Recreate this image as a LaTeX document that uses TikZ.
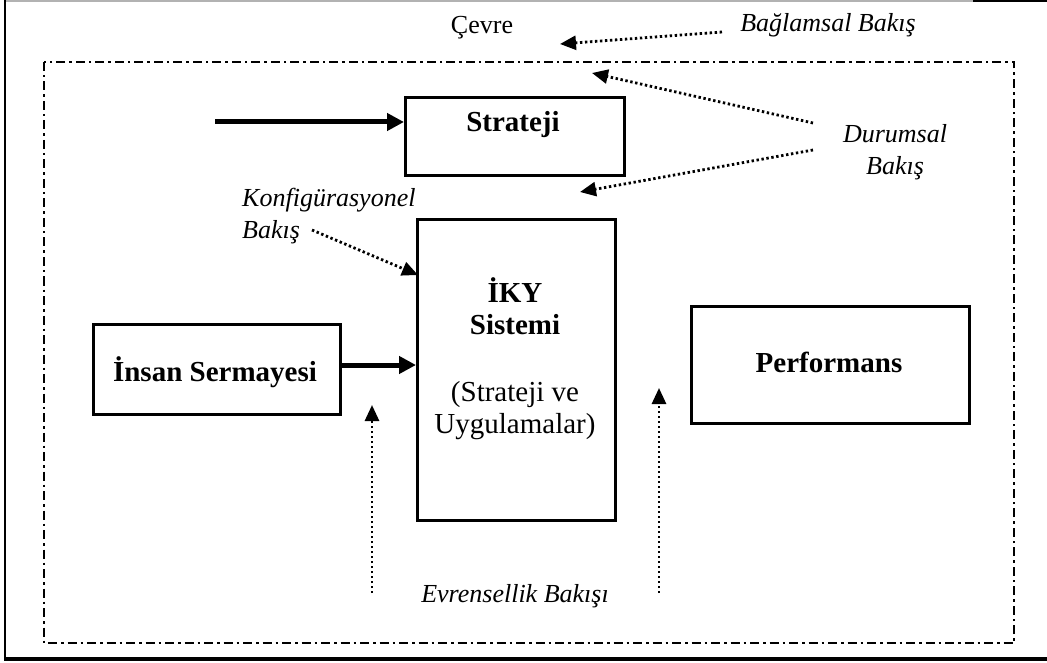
\documentclass[tikz,border=0pt]{standalone}
\usepackage{fontspec}
\setmainfont{Liberation Serif}
\usetikzlibrary{arrows.meta}

\tikzset{
  box/.style={draw, line width=2.6pt, rectangle, inner sep=0pt, anchor=north west},
  bigtxt/.style={font=\fontsize{29}{32}\selectfont, align=center, inner sep=0pt},
  boldtxt/.style={bigtxt, font=\fontsize{29}{32}\selectfont\bfseries},
  itxt/.style={font=\fontsize{26}{32}\selectfont\itshape, inner sep=0pt},
  flow/.style={line width=5pt, -{Triangle[length=17pt,width=17pt]}},
  view/.style={line width=2.8pt, dash pattern=on 2.4pt off 2.6pt, -{Triangle[length=16pt,width=14pt]}},
  envline/.style={line width=2.6pt, dash pattern=on 9pt off 4pt on 2.5pt off 4pt}
}

\begin{document}
\begin{tikzpicture}[x=1pt,y=-1pt]
\useasboundingbox (0,0) rectangle (1047,663);

% page frame
\draw[line width=2.5pt, gray!60] (5,1) -- (973,1);
\draw[line width=2.5pt] (973,1) -- (1047,1);
\draw[line width=2.5pt] (5,0) -- (5,659);
\draw[line width=3.5pt] (4,659) -- (1047,659);

% environment boundary
\draw[envline] (44,62) rectangle (1014,643);

% boxes
\node[box, minimum width=219pt, minimum height=78pt] (strbox) at (404,96) {};
\node[box, minimum width=198pt, minimum height=301pt] (ikybox) at (416,218) {};
\node[box, minimum width=247pt, minimum height=90pt] (insbox) at (92,323) {};
\node[box, minimum width=278pt, minimum height=117pt] (perfbox) at (690,305) {};

% box texts
\node[boldtxt] (strtxt) at (513,125) {Strateji};
\node[boldtxt] (ikytxt) at (515,306) {İKY\\Sistemi};
\node[bigtxt] (ikysub) at (515,411) {(Strateji ve\\Uygulamalar)};
\node[boldtxt] (instxt) at (215,372) {İnsan Sermayesi};
\node[boldtxt] (perftxt) at (829,362) {Performans};

% view labels
\node[font=\fontsize{26}{32}\selectfont, inner sep=0pt] (cevre) at (482,28) {Çevre};
\node[itxt] (bag) at (828,25) {Bağlamsal Bakış};
\node[itxt, align=center] (dur) at (895,152) {Durumsal\\Bakış};
\node[itxt, align=left, anchor=west] (konf) at (242,216) {Konfigürasyonel\\Bakış};
\node[itxt] (evr) at (515,596) {Evrensellik Bakışı};

% connector anchors
\coordinate (strin) at (215,122);
\coordinate (bagfrom) at (722,32);
\coordinate (bagto) at (560,44);
\coordinate (durfromA) at (813,123);
\coordinate (durtoA) at (592,73);
\coordinate (durfromB) at (813,150);
\coordinate (durtoB) at (580,192);
\coordinate (konffrom) at (312,230);
\coordinate (konfto) at (418,275);
\coordinate (evrLfrom) at (372,593);
\coordinate (evrLto) at (372,405);
\coordinate (evrRfrom) at (659,593);
\coordinate (evrRto) at (659,388);

% flows
\draw[flow] (strin) -- (strbox.west |- strin);
\draw[flow] (insbox.east |- 0,365) -- (ikybox.west |- 0,365);

% views
\draw[view] (bagfrom) -- (bagto);
\draw[view] (durfromA) -- (durtoA);
\draw[view] (durfromB) -- (durtoB);
\draw[view] (konffrom) -- (konfto);
\draw[view] (evrLfrom) -- (evrLto);
\draw[view] (evrRfrom) -- (evrRto);
\end{tikzpicture}
\end{document}
